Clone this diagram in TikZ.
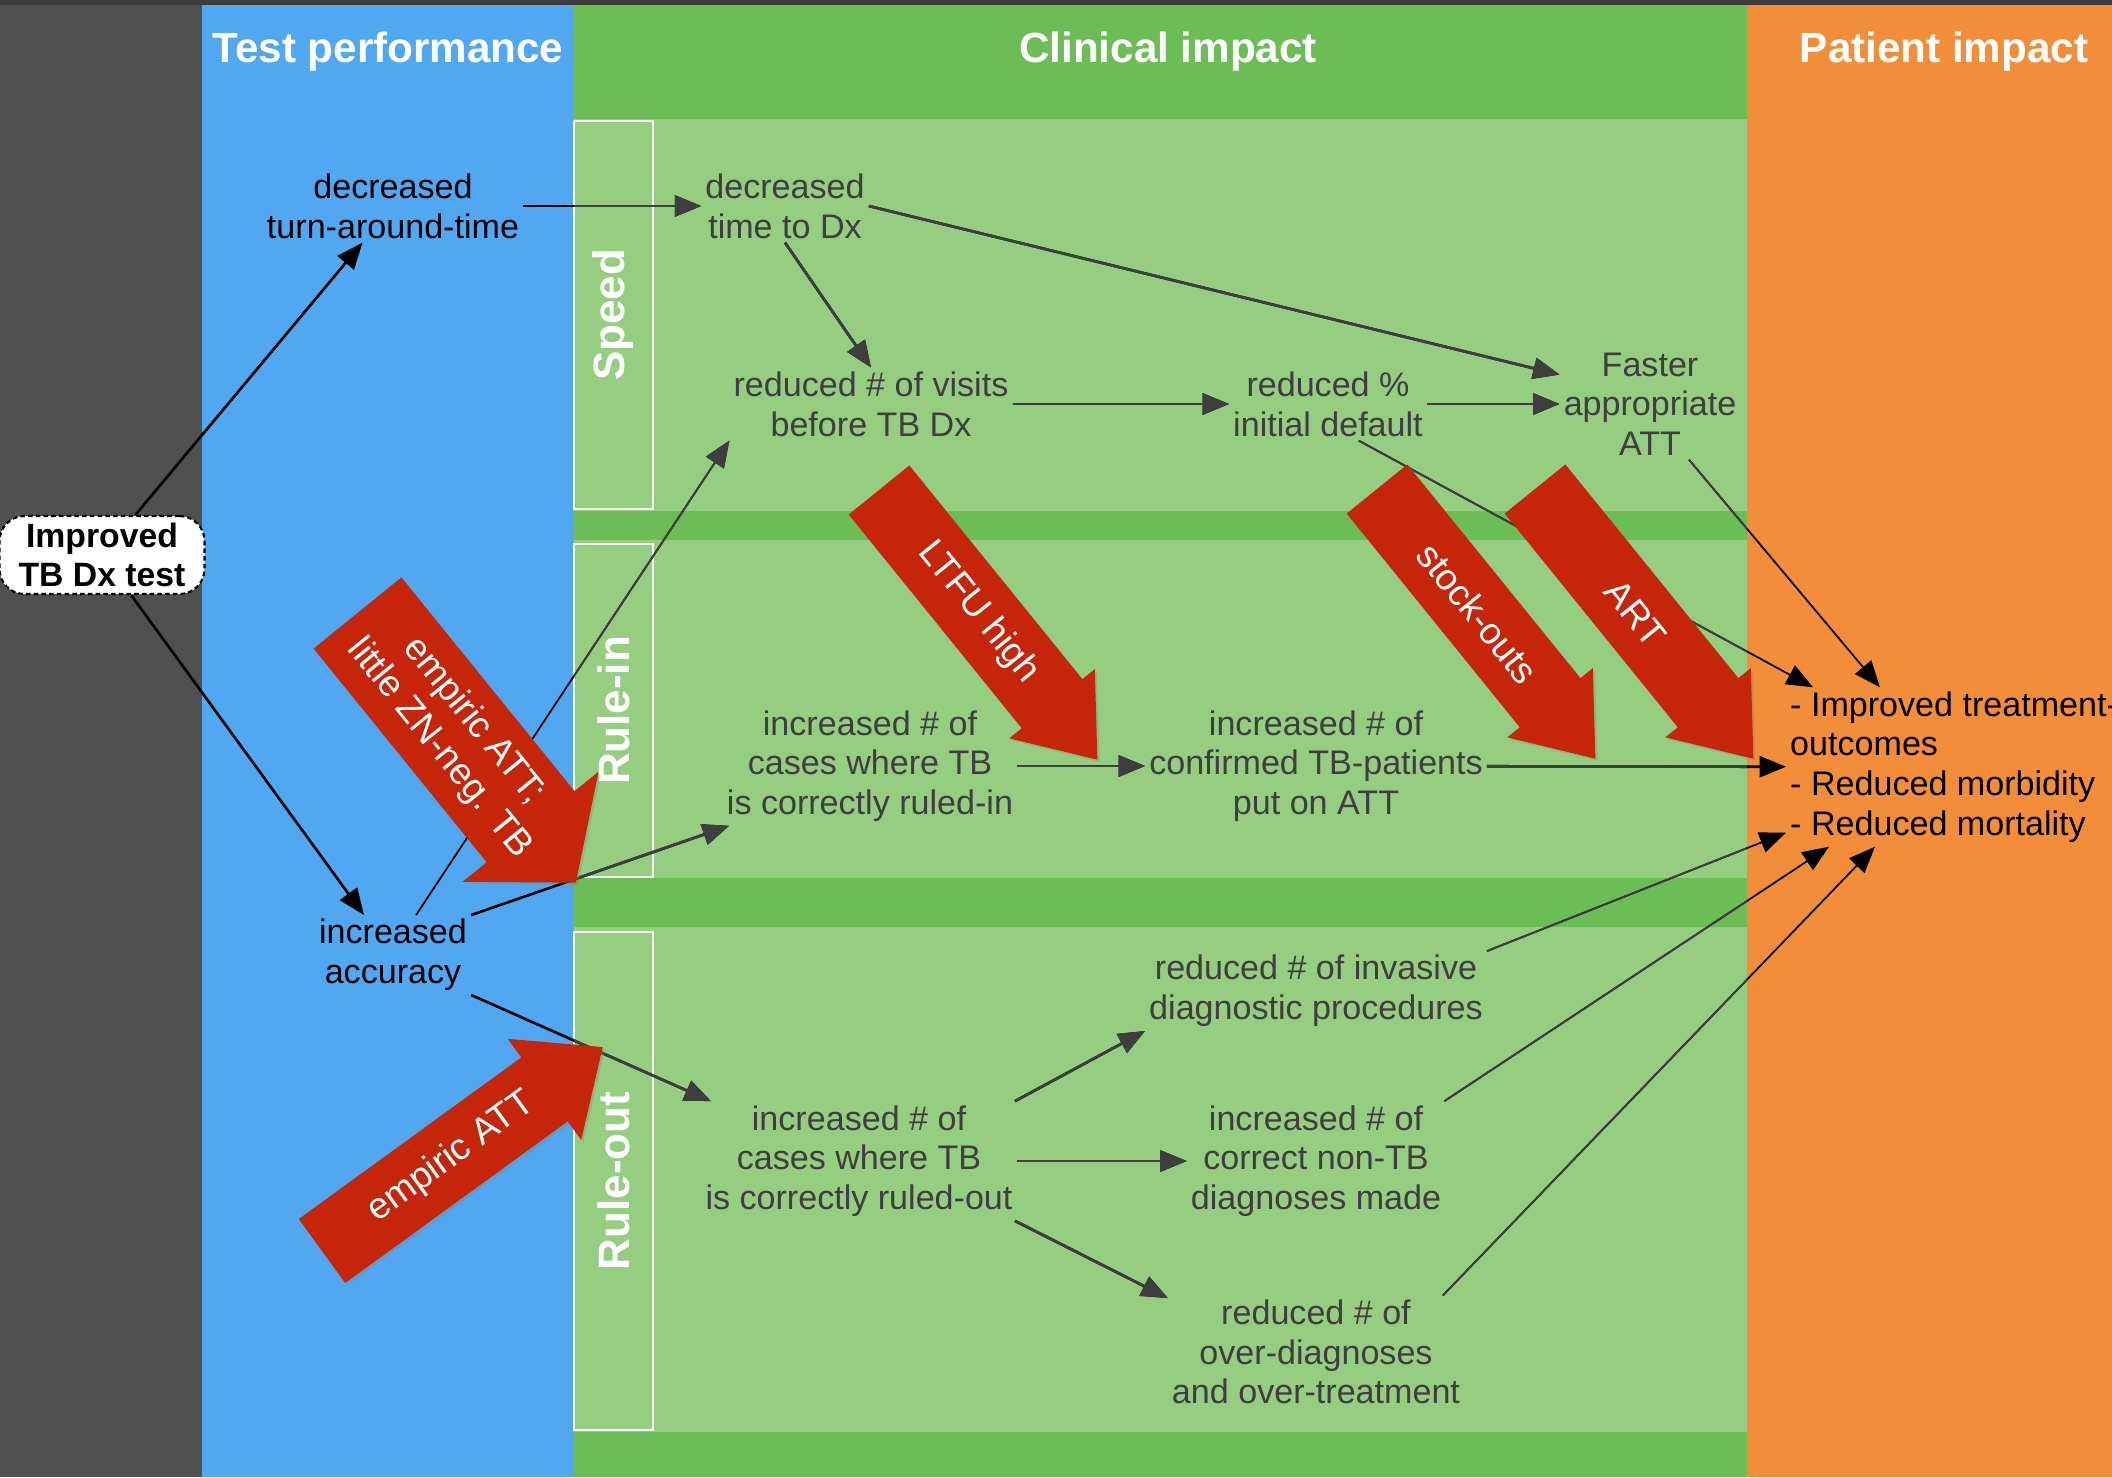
\documentclass[tikz,border=0pt]{standalone}
\usepackage{fontspec}
\setmainfont{Liberation Sans}
\usetikzlibrary{arrows.meta,shadows}

\definecolor{darkbg}{HTML}{505050}
\definecolor{testblue}{HTML}{52A8F0}
\definecolor{clingreen}{HTML}{6CBD55}
\definecolor{lanegreen}{HTML}{95CE81}
\definecolor{patorange}{HTML}{F28E3A}
\definecolor{redarr}{HTML}{C52508}
\definecolor{txtgray}{HTML}{3E3E3E}

\tikzset{
  txt/.style={align=center, font=\fontsize{9.7}{11.3}\selectfont, inner sep=1pt},
  cltxt/.style={txt, text=txtgray},
  head/.style={text=white, font=\bfseries\fontsize{12}{14}\selectfont},
  lane/.style={draw=white, line width=0.8pt, rotate=90, minimum height=0.79cm,
    text=white, font=\bfseries\fontsize{12.5}{14}\selectfont},
  link/.style={-{Triangle[length=7.5pt,width=6pt]}, line width=0.75pt},
  thinlink/.style={link, line width=0.5pt},
  redarrow/.style={fill=redarr, drop shadow={shadow xshift=0.6pt, shadow yshift=-0.6pt, opacity=0.3}},
  arrowtxt/.style={text=white, align=center, transform shape, font=\fontsize{10.5}{12.5}\selectfont},
  pics/bigarrow/.style n args={4}{code={
    \fill[redarrow] (0,-#1/2) -- (2.75,-#1/2) -- (2.75,-#2/2) -- (3.47,0)
      -- (2.75,#2/2) -- (2.75,#1/2) -- (0,#1/2) -- cycle;
    \node[arrowtxt] (-txt) at (#4,0) {#3};
  }}
}

% all connectors, drawn once in black and once in gray over the green column
\newcommand{\links}[1]{%
  \draw[link,#1] (imp) -- (tat);
  \draw[link,#1] (imp) -- (acc);
  \draw[link,#1] (tat) -- (ttd);
  \draw[link,#1] (ttd.south) -- (rv.north);
  \draw[link,#1] (ttd.east) -- (fatt.162);
  \draw[link,#1] (rv) -- (rpd);
  \draw[link,#1] (rpd) -- (fatt);
  \draw[thinlink,#1] (rpd.-50) -- ([xshift=0.27cm]out.north west);
  \draw[thinlink,#1] (fatt.-55) -- ([xshift=0.94cm]out.north west);
  \draw[thinlink,#1] (acc.60) -- (rv.south west);
  \draw[link,#1] (acc.north east) -- (rin.203);
  \draw[link,#1] (acc.south east) -- (rout.158);
  \draw[link,#1] (rin) -- (conf);
  \draw[link,#1] (conf) -- (out);
  \draw[link,#1] (rout.21) -- (inv.south west);
  \draw[link,#1] (rout) -- (ntb);
  \draw[link,#1] (rout.-21) -- (od.160);
  \draw[thinlink,#1] (inv.north east) -- ([yshift=0.14cm]out.south west);
  \draw[thinlink,#1] (ntb.25) -- ([xshift=0.43cm]out.south west);
  \draw[thinlink,#1] (od.24) -- ([xshift=0.89cm]out.south west);
}

\begin{document}
\begin{tikzpicture}
  \useasboundingbox (0,0) rectangle (21.12,-14.77);
  % columns
  \fill[darkbg] (0,0) rectangle (2.02,-14.77);
  \fill[testblue] (2.02,0) rectangle (5.74,-14.77);
  \fill[clingreen] (5.74,0) rectangle (17.47,-14.77);
  \fill[patorange] (17.47,0) rectangle (21.12,-14.77);
  \fill[darkbg!75!black] (0,0) rectangle (21.12,-0.05);
  % lanes
  \fill[lanegreen] (5.74,-1.185) rectangle (17.47,-5.105);
  \fill[lanegreen] (5.74,-5.40) rectangle (17.47,-8.78);
  \fill[lanegreen] (5.74,-9.27) rectangle (17.47,-14.32);
  \node[lane, minimum width=3.88cm] (speed) at (6.135,-3.15) {Speed};
  \node[lane, minimum width=3.33cm] (rulein) at (6.135,-7.105) {Rule-in};
  \node[lane, minimum width=4.98cm] (ruleout) at (6.135,-11.81) {Rule-out};
  % headings
  \node[head] (thead) at (3.88,-0.52) {Test performance};
  \node[head] (chead) at (11.68,-0.52) {Clinical impact};
  \node[head] (phead) at (19.44,-0.52) {Patient impact};
  % test performance
  \node[draw, dashed, dash pattern=on 1.3pt off 0.9pt, line width=0.6pt, fill=white,
    rounded corners=0.25cm, minimum width=2.05cm, minimum height=0.78cm, align=center,
    font=\bfseries\fontsize{9.6}{11.3}\selectfont, inner sep=1pt] (imp) at (1.02,-5.55) {Improved\\TB Dx test};
  \node[txt] (tat) at (3.93,-2.06) {decreased\\turn-around-time};
  \node[txt] (acc) at (3.93,-9.55) {increased\\accuracy};
  % clinical impact
  \node[cltxt] (ttd) at (7.85,-2.06) {decreased\\time to Dx};
  \node[cltxt] (rv) at (8.71,-4.04) {reduced \# of visits\\before TB Dx};
  \node[cltxt] (rpd) at (13.28,-4.04) {reduced \%\\initial default};
  \node[cltxt] (fatt) at (16.50,-4.04) {Faster\\appropriate\\ATT};
  \node[cltxt] (rin) at (8.70,-7.66) {increased \# of\\cases where TB\\is correctly ruled-in};
  \node[cltxt] (conf) at (13.16,-7.66) {increased \# of\\confirmed TB-patients\\put on ATT};
  \node[cltxt] (inv) at (13.16,-9.91) {reduced \# of invasive\\diagnostic procedures};
  \node[cltxt] (rout) at (8.59,-11.61) {increased \# of\\cases where TB\\is correctly ruled-out};
  \node[cltxt] (ntb) at (13.16,-11.61) {increased \# of\\correct non-TB\\diagnoses made};
  \node[cltxt] (od) at (13.16,-13.52) {reduced \# of\\over-diagnoses\\and over-treatment};
  % patient impact
  \node[txt, align=left, anchor=west] (out) at (17.86,-7.67)
    {- Improved treatment-\\outcomes\\- Reduced morbidity\\- Reduced mortality};
  % connectors
  \links{black}
  \begin{scope}
    \clip (5.74,0) rectangle (17.47,-14.77);
    \links{txtgray}
  \end{scope}
  % barriers
  \pic[rotate=-51] (emp) at (3.575,-6.13) {bigarrow={1.13}{1.75}{empiric ATT;\\little ZN-neg. TB}{1.57}};
  \pic[rotate=-51] (ltfu) at (8.79,-4.90) {bigarrow={0.78}{1.1}{LTFU high}{1.58}};
  \pic[rotate=-51] (stock) at (13.77,-4.89) {bigarrow={0.78}{1.1}{stock-outs}{1.6}};
  \pic[rotate=-51] (art) at (15.35,-4.89) {bigarrow={0.78}{1.1}{ART}{1.6}};
  \pic[rotate=36] (empatt) at (3.22,-12.51) {bigarrow={0.79}{1.25}{empiric ATT}{1.6}};
\end{tikzpicture}
\end{document}
